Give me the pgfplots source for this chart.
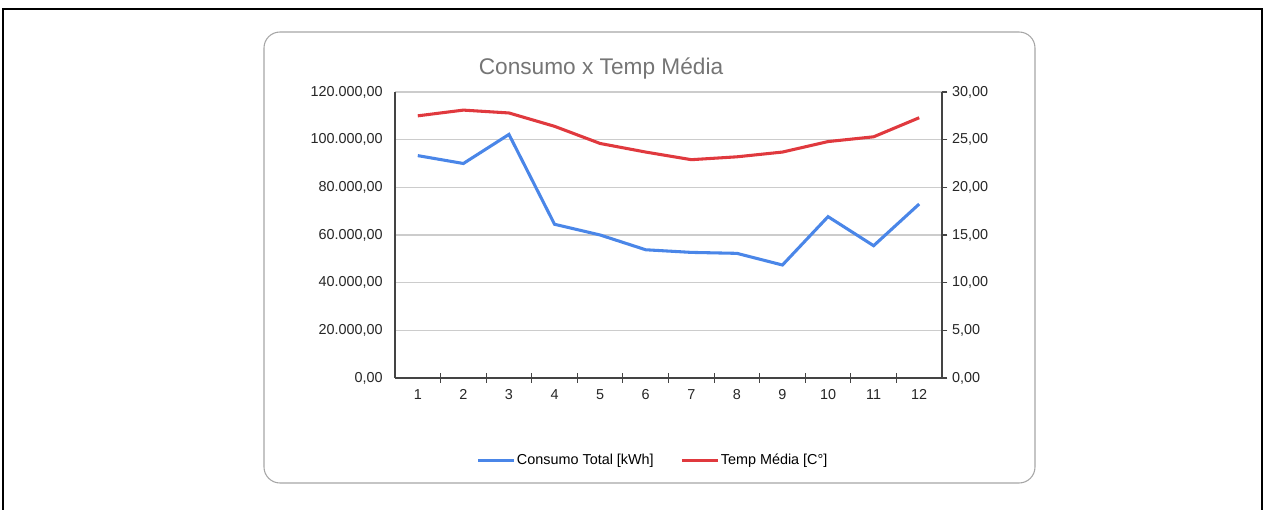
\documentclass[border=0pt]{standalone}
\usepackage{pgfplots}
\pgfplotsset{compat=1.18}
\usepackage{fontspec}
\setmainfont{Liberation Sans}
\definecolor{cblue}{HTML}{4A86E8}
\definecolor{cred}{HTML}{E0393E}
\definecolor{cgrid}{HTML}{CCCCCC}
\definecolor{caxis}{HTML}{444444}
\definecolor{ctitle}{HTML}{757575}
\begin{document}
\begin{tikzpicture}
\begin{scope}[x=0.75pt,y=0.75pt]
\useasboundingbox (0,0) rectangle (1265,510);
% outer frame
\draw[line width=1.7pt,black] (3,-10) -- (3,501) -- (1262,501) -- (1262,-10);
% inner rounded box
\draw[line width=0.8pt,color=black!35,rounded corners=12pt] (264,27) rectangle (1035,478);
% title
\node[color=ctitle,font=\fontsize{17}{20}\selectfont] at (601,441) {Consumo x Temp Média};
\end{scope}
\begin{axis}[
  at={(296.25pt,99pt)}, anchor=south west,
  width=410.25pt, height=214.5pt, scale only axis,
  xmin=0.5, xmax=12.5, ymin=0, ymax=120000,
  axis y line*=left, axis x line*=bottom,
  axis line style={color=caxis, line width=0.8pt},
  xtick={1.5,2.5,...,11.5}, xticklabels={},
  major x tick style={color=caxis, line width=0.8pt},
  major tick length=7.5pt,
  tick align=center,
  extra x ticks={1,2,...,12},
  extra x tick labels={1,2,3,4,5,6,7,8,9,10,11,12},
  extra x tick style={major tick length=0pt, grid=none},
  ytick={0,20000,...,120000},
  y tick style={draw=none},
  ymajorgrids, grid style={color=cgrid, line width=0.8pt},
  scaled y ticks=false,
  /pgf/number format/assume math mode=true,
  tick label style={font=\fontsize{10.8}{12}\selectfont, color=black!85},
  yticklabel style={xshift=-2pt, /pgf/number format/.cd, fixed, fixed zerofill, precision=2, use comma, 1000 sep={.}},
  xticklabel style={yshift=-5pt},
  clip=false,
]
\addplot[color=cblue, line width=2.3pt] coordinates {
 (1,93300) (2,90000) (3,102200) (4,64500) (5,60000) (6,53800)
 (7,52700) (8,52300) (9,47400) (10,67700) (11,55500) (12,73000)};
\end{axis}
\begin{axis}[
  at={(296.25pt,99pt)}, anchor=south west,
  width=410.25pt, height=214.5pt, scale only axis,
  xmin=0.5, xmax=12.5, ymin=0, ymax=30,
  axis y line*=right, axis x line=none,
  axis line style={color=caxis, line width=0.8pt},
  ytick={0,5,...,30},
  major y tick style={color=caxis, line width=0.8pt},
  major tick length=4pt, tick align=outside,
  yticklabel style={/pgf/number format/.cd, fixed, fixed zerofill, precision=2, use comma, 1000 sep={.}},
  /pgf/number format/assume math mode=true,
  tick label style={font=\fontsize{10.8}{12}\selectfont, color=black!85},
  legend style={at={(0.471,-0.287)}, anchor=center, draw=none, fill=none,
    legend columns=2, font=\fontsize{10.8}{12}\selectfont,
    nodes={inner xsep=1pt},
    /tikz/every even column/.append style={column sep=19pt}},
  legend image code/.code={\draw[#1] (0pt,0pt) -- (27pt,0pt);},
  legend cell align=left,
]
\addlegendimage{color=cblue, line width=2.3pt}
\addlegendentry{Consumo Total [kWh]}
\addplot[color=cred, line width=2.3pt] coordinates {
 (1,27.5) (2,28.1) (3,27.8) (4,26.4) (5,24.6) (6,23.7)
 (7,22.9) (8,23.2) (9,23.7) (10,24.8) (11,25.3) (12,27.3)};
\addlegendentry{Temp Média [C°]}
\end{axis}
\end{tikzpicture}
\end{document}
